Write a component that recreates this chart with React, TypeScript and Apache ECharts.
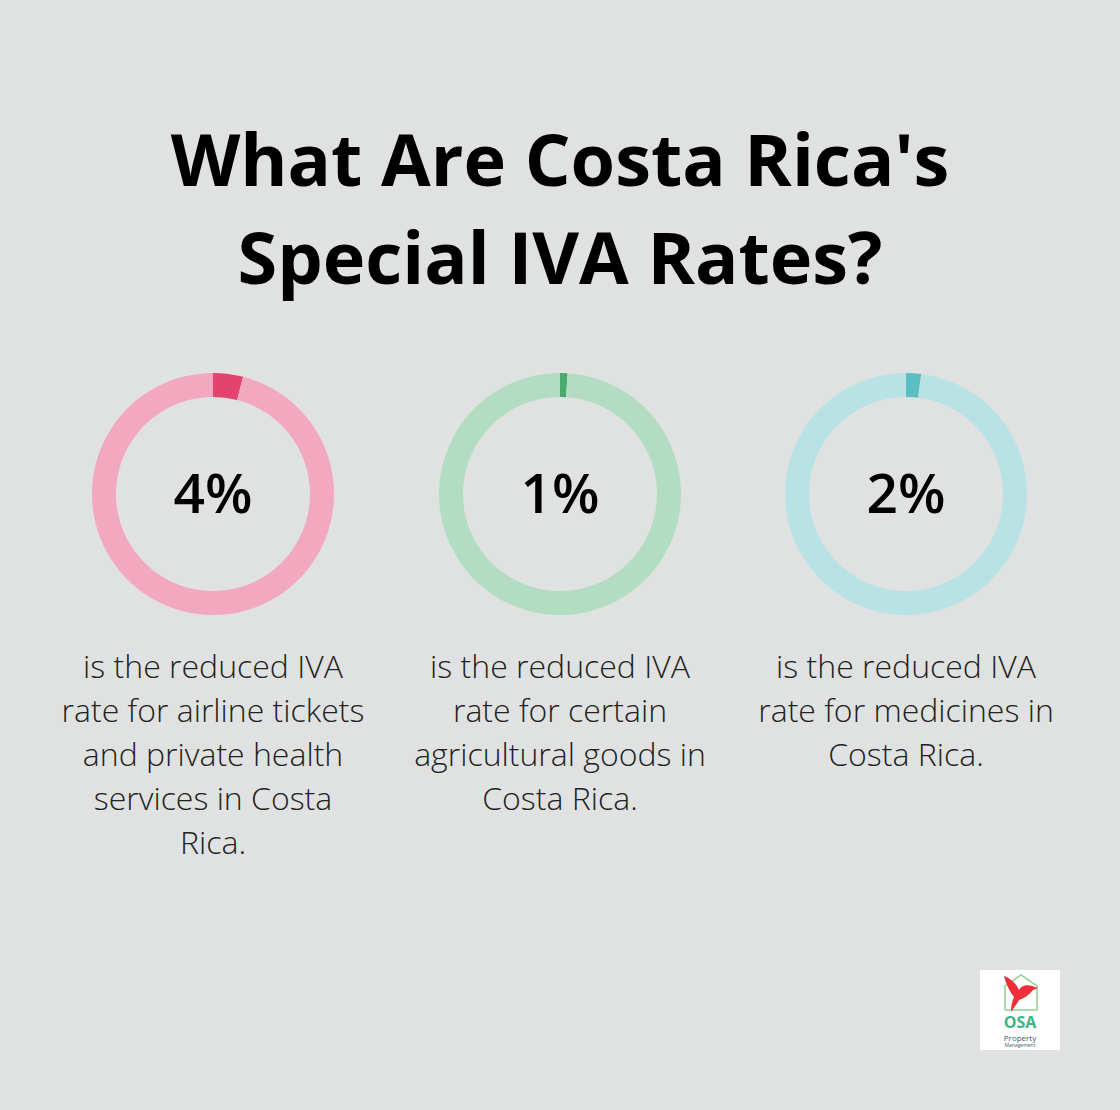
import React, { useEffect, useRef } from "react";
import * as echarts from "echarts";

const titleLines = ["What Are Costa Rica's", "Special IVA Rates?"];
const rateLabels = ["4%", "1%", "2%"];
const rateValues = [4, 1, 2];
const descriptions = [
  "is the reduced IVA\nrate for airline tickets\nand private health\nservices in Costa\nRica.",
  "is the reduced IVA\nrate for certain\nagricultural goods in\nCosta Rica.",
  "is the reduced IVA\nrate for medicines in\nCosta Rica.",
];
const darkColors = ["#E5436F", "#4BAA6B", "#5ABFC3"];
const lightColors = ["#F2A8BF", "#B2DDC2", "#B9E2E5"];
const centersX = [213, 560, 906];

const birdPath =
  "M2 2 C8 4 14 9 17 16 C19 12 24 10 30 12 L36 14 L31 16 C28 20 23 24 17 26 C15 30 12 34 9 38 C9 32 10 27 12 23 C8 18 4 10 2 2 Z";

echarts.graphic.registerShape(
  "osaBird",
  (echarts.graphic as any).extendPath(birdPath, {})
);

export default function App() {
  const ref = useRef<HTMLDivElement>(null);
  useEffect(() => {
    document.body.style.margin = "0";
    const chart = echarts.init(ref.current!, null, { renderer: "svg" });
    const font = "'Open Sans', sans-serif";
    const series: any[] = rateValues.map((v, i) => ({
      type: "pie",
      center: [centersX[i], 494],
      radius: [97, 121],
      startAngle: 90,
      clockwise: true,
      silent: true,
      label: { show: false },
      labelLine: { show: false },
      emphasis: { disabled: true },
      data: [
        { value: v, name: "rate", itemStyle: { color: darkColors[i] } },
        { value: 100 - v, name: "rest", itemStyle: { color: lightColors[i] } },
      ],
    }));
    const graphics: any[] = [];
    titleLines.forEach((t, i) => {
      graphics.push({
        type: "text",
        x: 560,
        y: 158 + i * 98,
        style: {
          text: t,
          fill: "#000",
          font: `bold 72px ${font}`,
          textAlign: "center",
          textVerticalAlign: "middle",
        },
      });
    });
    rateLabels.forEach((t, i) => {
      graphics.push({
        type: "text",
        x: centersX[i],
        y: 491,
        style: {
          text: t,
          fill: "#000",
          font: `600 55px ${font}`,
          textAlign: "center",
          textVerticalAlign: "middle",
        },
      });
      graphics.push({
        type: "text",
        x: centersX[i],
        y: 643,
        style: {
          text: descriptions[i],
          fill: "#222",
          font: `300 32px ${font}`,
          lineHeight: 44,
          textAlign: "center",
          textVerticalAlign: "top",
        },
      });
    });
    // logo
    graphics.push({
      type: "rect",
      shape: { x: 980, y: 970, width: 80, height: 80 },
      style: { fill: "#FFFFFF" },
    });
    graphics.push({
      type: "polyline",
      shape: {
        points: [
          [1005, 1010],
          [1005, 986],
          [1021, 975],
          [1037, 986],
          [1037, 1010],
          [1005, 1010],
        ],
      },
      style: {
        stroke: "#8FD08F",
        lineWidth: 1.5,
        fill: "none",
      },
    });
    graphics.push({
      type: "osaBird",
      x: 1002,
      y: 974,
      scaleX: 1,
      scaleY: 1,
      style: { fill: "#EE2F3A" },
    });
    graphics.push({
      type: "text",
      x: 1020,
      y: 1022,
      style: {
        text: "OSA",
        font: `bold 16px ${font}`,
        fill: "#3DB585",
        textAlign: "center",
        textVerticalAlign: "middle",
      },
    });
    graphics.push({
      type: "text",
      x: 1020,
      y: 1037,
      style: {
        text: "Property",
        font: `8px ${font}`,
        fill: "#3A5A6A",
        textAlign: "center",
        textVerticalAlign: "middle",
      },
    });
    graphics.push({
      type: "text",
      x: 1020,
      y: 1045,
      style: {
        text: "Management",
        font: `5px ${font}`,
        fill: "#3A5A6A",
        textAlign: "center",
        textVerticalAlign: "middle",
      },
    });
    chart.setOption({
      animation: false,
      backgroundColor: "#E0E2E1",
      series,
      graphic: graphics,
    });
    return () => chart.dispose();
  }, []);
  return <div ref={ref} style={{ width: 1120, height: 1110 }} />;
}
